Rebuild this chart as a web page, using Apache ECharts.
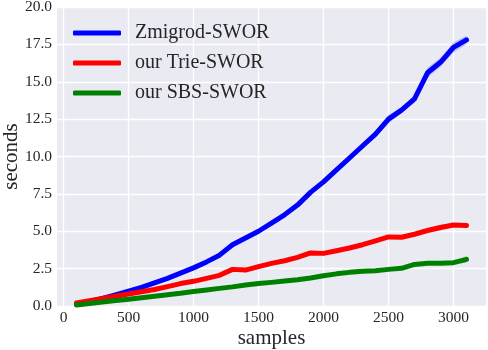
<!DOCTYPE html>
<html>
<head>
<meta charset="utf-8">
<script src="https://cdn.jsdelivr.net/npm/echarts@6/dist/echarts.min.js"></script>
<style>html,body{margin:0;padding:0;background:#fff}#c{width:488px;height:350px}</style>
</head>
<body>
<div id="c"></div>
<script>
const samples = [100,200,300,400,500,600,700,800,900,1000,1100,1200,1300,1400,1500,1600,1700,1800,1900,2000,2100,2200,2300,2400,2500,2600,2700,2800,2900,3000,3100];
const zmigrod = [0.12,0.3,0.5,0.75,1.0,1.25,1.55,1.85,2.2,2.55,2.95,3.4,4.1,4.55,5.0,5.55,6.1,6.75,7.6,8.3,9.1,9.9,10.7,11.5,12.5,13.1,13.85,15.6,16.3,17.3,17.8];
const trie = [0.2,0.35,0.5,0.65,0.8,0.95,1.1,1.3,1.5,1.65,1.85,2.05,2.45,2.4,2.63,2.85,3.03,3.25,3.55,3.52,3.7,3.88,4.1,4.35,4.62,4.6,4.8,5.05,5.25,5.42,5.38];
const sbs = [0.07,0.17,0.27,0.37,0.45,0.55,0.65,0.75,0.85,0.97,1.07,1.18,1.28,1.4,1.5,1.58,1.67,1.76,1.87,2.02,2.15,2.25,2.33,2.36,2.45,2.52,2.78,2.86,2.86,2.9,3.12];
const zmigrodSpread = [0.03,0.03,0.03,0.04,0.04,0.05,0.05,0.05,0.05,0.05,0.05,0.06,0.08,0.06,0.06,0.06,0.08,0.08,0.08,0.08,0.08,0.1,0.1,0.2,0.3,0.2,0.25,0.35,0.3,0.35,0.3];
const trieSpread = [0.03,0.03,0.03,0.03,0.03,0.03,0.03,0.03,0.04,0.04,0.04,0.05,0.08,0.05,0.05,0.05,0.06,0.06,0.15,0.06,0.06,0.08,0.08,0.15,0.15,0.08,0.1,0.15,0.2,0.1,0.08];
const sbsSpread = [0.02,0.02,0.02,0.02,0.02,0.02,0.02,0.02,0.02,0.03,0.03,0.03,0.03,0.03,0.03,0.03,0.04,0.04,0.04,0.05,0.06,0.08,0.08,0.05,0.05,0.06,0.12,0.12,0.08,0.08,0.25];
const xTicks = [0,500,1000,1500,2000,2500,3000];
const names = ['Zmigrod-SWOR','our Trie-SWOR','our SBS-SWOR'];
const colors = ['#0000ff','#ff0000','#008000'];

const chart = echarts.init(document.getElementById('c'), null, {renderer:'canvas'});
const font = 'Liberation Serif';
const seriesVals = [zmigrod, trie, sbs];
const spreads = [zmigrodSpread, trieSpread, sbsSpread];
const series = [];
// vertical grid lines at the x tick values
series.push({
  name: 'xgrid', type: 'custom', silent: true, z: 0, clip: true,
  data: xTicks.map(v => [v, 0]), encode: {x: 0, y: 1},
  renderItem: function (params, api) {
    const v = api.value(0);
    const p0 = api.coord([v, 0]);
    const p1 = api.coord([v, 20]);
    return {type: 'line', shape: {x1: p0[0], y1: p0[1], x2: p1[0], y2: p1[1]}, style: {stroke: '#ffffff', lineWidth: 1.3}};
  }
});
seriesVals.forEach((vals, i) => {
  const bandData = samples.map((s, k) => [s, vals[k] - spreads[i][k], vals[k] + spreads[i][k]]);
  series.push({
    name: 'band_' + i, type: 'custom', silent: true, z: 1, clip: true,
    data: bandData, encode: {x: 0, y: [1, 2]},
    renderItem: function (params, api) {
      if (params.dataIndex !== 0) return null;
      const upper = bandData.map(d => api.coord([d[0], d[2]]));
      const lower = bandData.map(d => api.coord([d[0], d[1]])).reverse();
      return {type: 'polygon', shape: {points: upper.concat(lower)}, style: {fill: colors[i], opacity: 0.18}};
    }
  });
});
seriesVals.forEach((vals, i) => {
  series.push({name: names[i], type: 'line', data: samples.map((s, k) => [s, vals[k]]), symbol: 'none', smooth: false,
    lineStyle: {color: colors[i], width: 5, cap: 'round', join: 'round'}, itemStyle: {color: colors[i]}, z: 3});
});

chart.setOption({
  animation: false,
  backgroundColor: '#ffffff',
  textStyle: {fontFamily: font},
  grid: {left: 57, right: 2, top: 7, bottom: 44, show: true, backgroundColor: '#eaeaf2', borderWidth: 0, containLabel: false, outerBoundsMode: 'none'},
  legend: {
    data: names, orient: 'vertical', left: 68, top: 18, itemGap: 10, itemWidth: 48, itemHeight: 5,
    icon: 'roundRect',
    textStyle: {fontFamily: font, fontSize: 20, color: '#262626', padding: [0,0,0,9]}
  },
  xAxis: {
    type: 'value', min: -50, max: 3250,
    name: 'samples', nameLocation: 'middle', nameGap: 22, nameMoveOverlap: false,
    nameTextStyle: {fontFamily: font, fontSize: 21, color: '#262626'},
    axisLine: {show: false}, axisTick: {show: false, customValues: xTicks},
    axisLabel: {customValues: xTicks, fontFamily: font, fontSize: 15.5, color: '#262626', margin: 4, formatter: v => String(v)},
    splitLine: {show: false}
  },
  yAxis: {
    type: 'value', min: 0, max: 20, interval: 2.5,
    name: 'seconds', nameLocation: 'middle', nameGap: 35, nameMoveOverlap: false,
    nameTextStyle: {fontFamily: font, fontSize: 21, color: '#262626'},
    axisLine: {show: false}, axisTick: {show: false},
    axisLabel: {fontFamily: font, fontSize: 15.5, color: '#262626', margin: 5, formatter: v => v.toFixed(1)},
    splitLine: {show: true, lineStyle: {color: '#ffffff', width: 1.3}}
  },
  series: series
});
</script>
</body>
</html>
